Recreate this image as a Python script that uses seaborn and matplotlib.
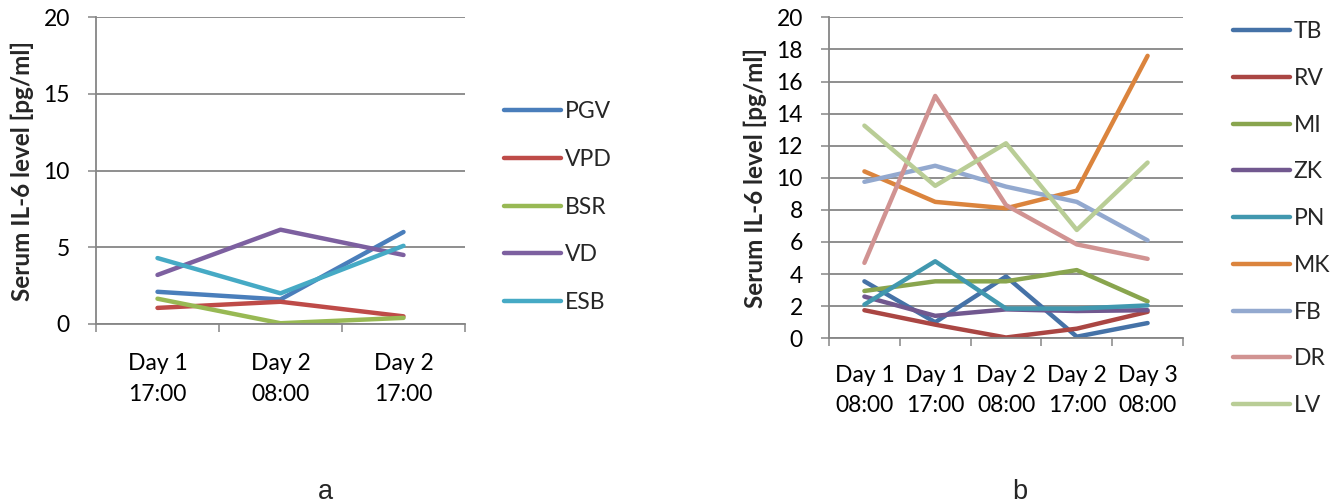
import pandas as pd
import seaborn as sns
import matplotlib.pyplot as plt
from matplotlib.ticker import FixedLocator

# ---- data ---------------------------------------------------------------
times_a = ["Day 1\n17:00", "Day 2\n08:00", "Day 2\n17:00"]
subjects_a = ["PGV", "VPD", "BSR", "VD", "ESB"]
pgv = [2.1, 1.6, 6.0]
vpd = [1.05, 1.45, 0.5]
bsr = [1.65, 0.05, 0.4]
vd = [3.2, 6.15, 4.5]
esb = [4.3, 2.0, 5.1]
colors_a = ["#4A7EBB", "#BE4B48", "#98B954", "#7D60A0", "#46AAC5"]

times_b = ["Day 1\n08:00", "Day 1\n17:00", "Day 2\n08:00", "Day 2\n17:00", "Day 3\n08:00"]
subjects_b = ["TB", "RV", "MI", "ZK", "PN", "MK", "FB", "DR", "LV"]
tb = [3.55, 1.0, 3.85, 0.1, 0.95]
rv = [1.75, 0.85, 0.05, 0.6, 1.65]
mi = [2.95, 3.55, 3.55, 4.25, 2.3]
zk = [2.6, 1.4, 1.8, 1.7, 1.75]
pn = [2.1, 4.8, 1.85, 1.85, 2.05]
mk = [10.4, 8.5, 8.1, 9.2, 17.6]
fb = [9.75, 10.75, 9.45, 8.5, 6.1]
dr = [4.7, 15.1, 8.3, 5.85, 4.95]
lv = [13.25, 9.5, 12.15, 6.75, 10.95]
colors_b = ["#4572A7", "#AA4643", "#89A54E", "#71588F", "#4198AF",
            "#DB843D", "#93A9CF", "#D19392", "#B9CD96"]

y_label = "Serum IL-6 level [pg/ml]"

# ---- style --------------------------------------------------------------
sns.set_theme(style="white")
plt.rcParams['font.family'] = ['Lato', 'DejaVu Sans']
GRID = "#868686"
FS = 16.5

W, H = 1340, 504
fig = plt.figure(figsize=(W / 100, H / 100), dpi=100)


def long_frame(times, subjects, series):
    rows = []
    for name, vals in zip(subjects, series):
        for t, v in zip(times, vals):
            rows.append({"time": t, "level": v, "subject": name})
    return pd.DataFrame(rows)


def draw_panel(rect, times, subjects, series, colors, ymax, ystep,
               label_x, legend_xy, legend_spacing, tick_pad):
    ax = fig.add_axes(rect)
    df = long_frame(times, subjects, series)
    sns.lineplot(data=df, x="time", y="level", hue="subject",
                 hue_order=subjects, palette=colors, sort=False,
                 linewidth=3.2, legend=False, ax=ax)
    for ln in ax.get_lines():
        ln.set_solid_capstyle("round")
        ln.set_solid_joinstyle("round")

    n = len(times)
    ax.set_xlim(-0.5, n - 0.5)
    ax.set_ylim(0, ymax)
    ax.set_yticks(range(0, ymax + 1, ystep))
    ax.set_xticks(range(n))
    ax.set_xticklabels(times, fontsize=FS)
    for t in ax.get_xticklabels():
        t.set_linespacing(1.55)
    ax.xaxis.set_minor_locator(FixedLocator([i - 0.5 for i in range(n + 1)]))
    ax.tick_params(axis="y", labelsize=FS, left=True, length=5.8,
                   width=1.1, color=GRID, pad=13, labelcolor="black")
    ax.tick_params(axis="x", which="major", bottom=True, length=0,
                   pad=tick_pad, labelcolor="black")
    ax.tick_params(axis="x", which="minor", bottom=True, length=6,
                   width=1.1, color=GRID)
    ax.set_xlabel("")
    ax.set_ylabel(y_label, fontsize=17.5, fontweight="bold")
    ax.yaxis.set_label_coords(label_x, rect[1] + rect[3] / 2,
                              transform=fig.transFigure)
    ax.yaxis.grid(True, color=GRID, linewidth=1.3)
    ax.xaxis.grid(False)
    for side in ("top", "right"):
        ax.spines[side].set_visible(False)
    for side in ("left", "bottom"):
        ax.spines[side].set_color(GRID)
        ax.spines[side].set_linewidth(1.3)

    handles = ax.get_lines()[:len(subjects)]
    ax.legend(handles, subjects, loc="upper left",
              bbox_to_anchor=legend_xy, bbox_transform=fig.transFigure,
              frameon=False, fontsize=FS, borderpad=0, borderaxespad=0,
              handlelength=2.5, handletextpad=0.15,
              labelspacing=legend_spacing)
    return ax


draw_panel([96 / W, 1 - 324 / H, 369 / W, 306.7 / H],
           times_a, subjects_a, [pgv, vpd, bsr, vd, esb], colors_a,
           20, 5, 34 / W, (504 / W, 1 - 101 / H), 1.17, 21)

draw_panel([829 / W, 1 - 338.3 / H, 354 / W, 321 / H],
           times_b, subjects_b, [tb, rv, mi, zk, pn, mk, fb, dr, lv], colors_b,
           20, 2, 767 / W, (1233 / W, 1 - 21 / H), 1.125, 19)

fig.text(325 / W, 1 - 499 / H, "a", ha="center", va="baseline",
         fontsize=19.5, family="Liberation Sans")
fig.text(1020 / W, 1 - 499 / H, "b", ha="center", va="baseline",
         fontsize=19.5, family="Liberation Sans")

fig.savefig("out.png", dpi=100)
